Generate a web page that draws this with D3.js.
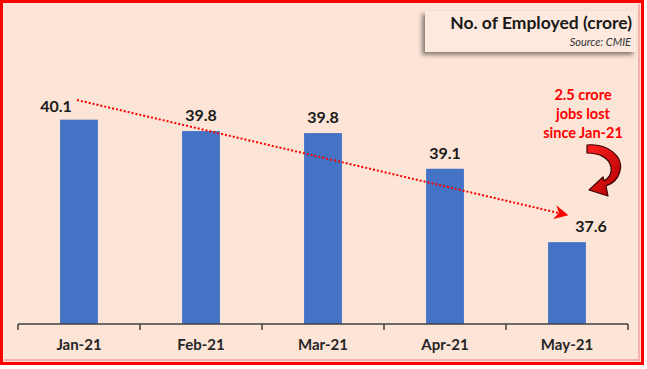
<!DOCTYPE html>
<html><head><meta charset="utf-8">
<script src="https://cdn.jsdelivr.net/npm/d3@7/dist/d3.min.js"></script>
<style>html,body{margin:0;padding:0;background:#fff;}svg{display:block;}</style>
</head><body>
<script>
const months = ["Jan-21","Feb-21","Mar-21","Apr-21","May-21"];
const employed = [40.07, 39.84, 39.8, 39.08, 37.6];
const labels = ["40.1","39.8","39.8","39.1","37.6"];
const titleText = "No. of Employed (crore)";
const sourceText = "Source: CMIE";
const noteLines = ["2.5 crore","jobs lost","since Jan-21"];

const W = 647, H = 369;
const FONT = "Lato, 'Open Sans', sans-serif";
const svg = d3.select("body").append("svg").attr("width", W).attr("height", H);
const defs = svg.append("defs");
const sh = defs.append("filter").attr("id","sh").attr("x","-20%").attr("y","-30%").attr("width","140%").attr("height","170%");
sh.append("feDropShadow").attr("dx",-3).attr("dy",3).attr("stdDeviation",2.2).attr("flood-color","#000").attr("flood-opacity",0.45);
const gr = defs.append("linearGradient").attr("id","ag").attr("x1","0").attr("y1","0").attr("x2","1").attr("y2","1");
gr.append("stop").attr("offset","0").attr("stop-color","#ff2020");
gr.append("stop").attr("offset","1").attr("stop-color","#b00000");
defs.append("marker").attr("id","ah").attr("viewBox","0 0 10 10").attr("refX",9).attr("refY",5)
  .attr("markerWidth",7).attr("markerHeight",7).attr("markerUnits","userSpaceOnUse").attr("orient","auto")
  .append("path").attr("d","M0,0 L10,5 L0,10 L3,5 Z").attr("fill","#ff0000");
defs.select("#ah").attr("markerWidth",14).attr("markerHeight",14);

// background + frame
svg.append("rect").attr("x",1.5).attr("y",1.5).attr("width",641).attr("height",362)
  .attr("fill","#fce4d6").attr("stroke","#ff0000").attr("stroke-width",3);
svg.append("line").attr("x1",639).attr("y1",4).attr("x2",639).attr("y2",361).attr("stroke","#f4a0a0").attr("stroke-width",1.5);
svg.append("line").attr("x1",4).attr("y1",360).attr("x2",639).attr("y2",360).attr("stroke","#f4a0a0").attr("stroke-width",1.5);

const x = d3.scaleBand().domain(months).range([18, 628]).paddingInner(0.69).paddingOuter(0.345);
const step = x.step();
const y = d3.scaleLinear().domain([35.95, 42.1]).range([324, 19]);

// bars
svg.selectAll("rect.bar").data(months).join("rect").attr("class","bar")
  .attr("x", d => x(d)).attr("width", x.bandwidth())
  .attr("y", (d,i) => y(employed[i])).attr("height", (d,i) => y(35.95) - y(employed[i]))
  .attr("fill","#4472c4");

// axis
const ax = svg.append("g").attr("transform","translate(0,324)");
ax.append("line").attr("x1",18).attr("x2",628).attr("stroke","#404040").attr("stroke-width",1.5);
const bounds = d3.range(months.length + 1).map(i => 18 + i * step);
ax.selectAll("line.tk").data(bounds).join("line").attr("class","tk")
  .attr("x1", d => d).attr("x2", d => d).attr("y1",0).attr("y2",6).attr("stroke","#404040").attr("stroke-width",1.5);
ax.selectAll("text").data(months).join("text")
  .attr("x", d => x(d) + x.bandwidth()/2).attr("y", 26)
  .attr("text-anchor","middle").attr("font-family",FONT).attr("font-weight","bold")
  .attr("font-size",15).attr("fill","#262626").text(d => d);

// value labels
const dxOff = [-23, 0, 0, 0, 24];
svg.selectAll("text.val").data(months).join("text").attr("class","val")
  .attr("x", (d,i) => x(d) + x.bandwidth()/2 + dxOff[i])
  .attr("y", (d,i) => y(employed[i]) - (i === 0 ? 8 : 10))
  .attr("text-anchor","middle").attr("font-family",FONT).attr("font-weight","bold")
  .attr("font-size",16).attr("fill","#1a1a1a").text((d,i) => labels[i]);

// dotted trend arrow
svg.append("line").attr("x1",77).attr("y1",100).attr("x2",567).attr("y2",215)
  .attr("stroke","#ff0000").attr("stroke-width",2).attr("stroke-dasharray","2,2")
  .attr("marker-end","url(#ah)");

// annotation
svg.append("text").attr("font-family",FONT).attr("font-weight","bold").attr("font-size",14.5)
  .attr("fill","#ff0000").attr("text-anchor","middle")
  .selectAll("tspan").data(noteLines).join("tspan")
  .attr("x",583).attr("y",(d,i) => 100 + i*19).text(d => d);

// curved block arrow
svg.append("path")
  .attr("d","M587,145 C607,143 624,156 620,171 C618,179 612,184 606,186 L608,196 L589,190 L603,177 L604,181 C609,178 612,173 611,167 C609,158 600,153 587,153 Z")
  .attr("fill","url(#ag)").attr("stroke","#3a0000").attr("stroke-width",1.2).attr("stroke-linejoin","round");

// title box
svg.append("rect").attr("x",425).attr("y",11).attr("width",211).attr("height",41)
  .attr("fill","#fde9dd").attr("filter","url(#sh)");
svg.append("text").attr("x",632).attr("y",29).attr("text-anchor","end")
  .attr("font-family",FONT).attr("font-weight","bold").attr("font-size",17.5).attr("fill","#1a1a1a").text(titleText);
svg.append("text").attr("x",631).attr("y",46).attr("text-anchor","end")
  .attr("font-family",FONT).attr("font-style","italic").attr("font-size",11).attr("fill","#333").text(sourceText);
</script>
</body></html>
